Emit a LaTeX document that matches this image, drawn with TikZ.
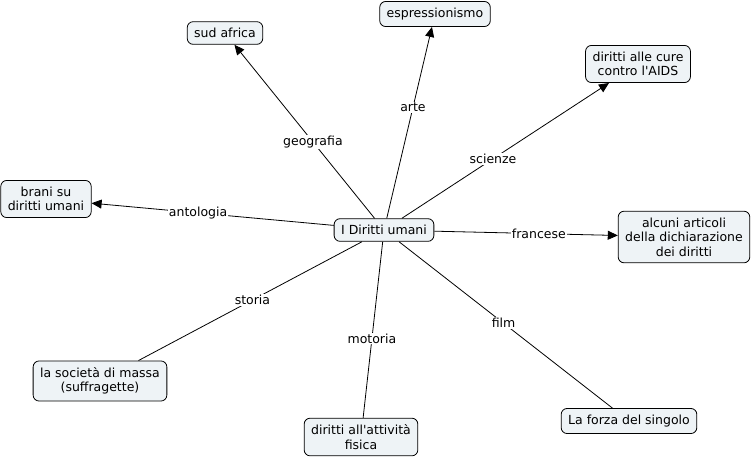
\documentclass[tikz,border=0pt]{standalone}
\usepackage{fontspec}
\setmainfont{DejaVu Sans}
\usetikzlibrary{arrows.meta, positioning}
\definecolor{conceptfill}{RGB}{238,243,246}
\tikzset{
  concept/.style={draw=black, fill=conceptfill, rounded corners=6pt, align=center,
    inner xsep=7pt, inner ysep=6.5pt, line width=0.8pt},
  link/.style={line width=0.8pt},
  linkto/.style={link, -{Triangle[length=10pt, width=9pt]}},
  linklabel/.style={fill=white, inner sep=1pt},
}

\begin{document}
\begin{tikzpicture}[x=1pt, y=-1pt, font=\fontsize{12.5}{14.5}\selectfont]
  \useasboundingbox (0,0) rectangle (752,459);
  % concepts
  \node[concept] (diritti) at (384,230) {I Diritti umani};
  \node[concept] (brani) at (46,199) {brani su\\diritti umani};
  \node[concept] (sudafrica) at (225,33) {sud africa};
  \node[concept] (espress) at (435,14) {espressionismo};
  \node[concept] (aids) at (638,64) {diritti alle cure\\contro l\textquotesingle AIDS};
  \node[concept] (articoli) at (684,237) {alcuni articoli\\della dichiarazione\\dei diritti};
  \node[concept] (forza) at (629,421) {La forza del singolo};
  \node[concept] (motoria) at (361,437) {diritti all\textquotesingle attività\\fisica};
  \node[concept] (massa) at (100,381) {la società di massa\\(suffragette)};
  % links with arrows
  \draw[linkto] (diritti) -- node[linklabel, pos=0.44] (geo) {geografia} (sudafrica);
  \draw[linkto] (diritti) -- node[linklabel, pos=0.58] (arte) {arte} (espress);
  \draw[linkto] (diritti) -- node[linklabel, pos=0.44] (scienze) {scienze} (aids);
  \draw[linkto] (diritti) -- node[linklabel, pos=0.56] (anto) {antologia} (brani);
  \draw[linkto] (diritti) -- node[linklabel, pos=0.57] (fra) {francese} (articoli);
  % plain links
  \draw[link] (diritti) -- node[linklabel, pos=0.49] (sto) {storia} (massa);
  \draw[link] (diritti) -- node[linklabel, pos=0.55] (mot) {motoria} (motoria);
  \draw[link] (diritti) -- node[linklabel, pos=0.49] (film) {film} (forza);
\end{tikzpicture}
\end{document}
